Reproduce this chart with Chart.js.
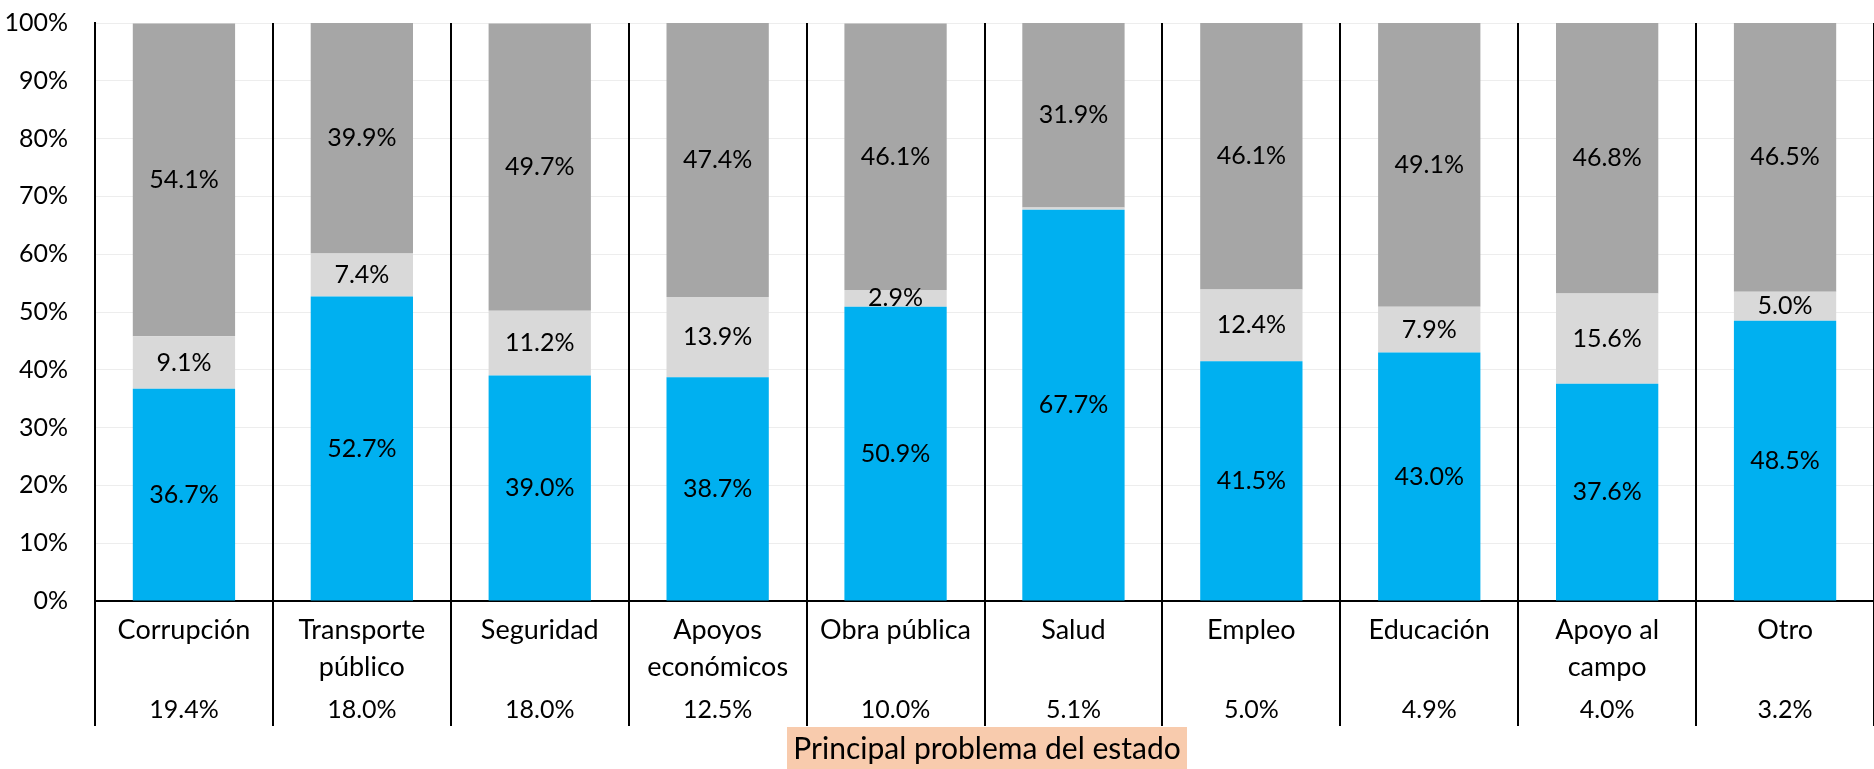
<!DOCTYPE html>
<html>
<head>
<meta charset="utf-8">
<script src="https://cdn.jsdelivr.net/npm/chart.js@4.4.0/dist/chart.umd.min.js"></script>
<style>
  html, body { margin: 0; padding: 0; background: #fff; }
  #wrap { width: 1874px; height: 769px; position: relative; }
</style>
</head>
<body>
<div id="wrap"><canvas id="chart"></canvas></div>
<script>
// categorías (eje x) y su participación
const categories = [
  ['Corrupción'], ['Transporte', 'público'], ['Seguridad'], ['Apoyos', 'económicos'],
  ['Obra pública'], ['Salud'], ['Empleo'], ['Educación'], ['Apoyo al', 'campo'], ['Otro'],
];
const shares = ['19.4%', '18.0%', '18.0%', '12.5%', '10.0%', '5.1%', '5.0%', '4.9%', '4.0%', '3.2%'];

// series apiladas
const serieAzul   = [36.7, 52.7, 39.0, 38.7, 50.9, 67.7, 41.5, 43.0, 37.6, 48.5];
const serieClara  = [9.1, 7.4, 11.2, 13.9, 2.9, 0.4, 12.4, 7.9, 15.6, 5.0];
const serieOscura = [54.1, 39.9, 49.7, 47.4, 46.1, 31.9, 46.1, 49.1, 46.8, 46.5];

const yTicks = [0, 10, 20, 30, 40, 50, 60, 70, 80, 90, 100];
const axisTitle = 'Principal problema del estado';

const FONT = 'Lato';

// etiquetas dentro de las barras, separadores y fila de porcentajes
const decoraciones = {
  id: 'decoraciones',
  afterDatasetsDraw(chart) {
    const { ctx, chartArea, scales: { x } } = chart;
    ctx.save();
    ctx.textAlign = 'center';
    ctx.textBaseline = 'middle';
    ctx.fillStyle = '#000';
    ctx.font = `25px ${FONT}`;
    chart.data.datasets.forEach((ds, di) => {
      const meta = chart.getDatasetMeta(di);
      meta.data.forEach((bar, i) => {
        const v = ds.data[i];
        if (v < 1) return;
        const p = bar.getCenterPoint();
        ctx.fillText(v.toFixed(1) + '%', p.x, p.y);
      });
    });

    // líneas verticales entre categorías
    const half = (x.getPixelForValue(1) - x.getPixelForValue(0)) / 2;
    ctx.strokeStyle = '#000';
    ctx.lineWidth = 2;
    for (let i = 0; i <= categories.length; i++) {
      const px = Math.round(x.getPixelForValue(i) - half);
      ctx.beginPath();
      ctx.moveTo(px, chartArea.top);
      ctx.lineTo(px, 726);
      ctx.stroke();
    }

    // fila de participación
    shares.forEach((s, i) => {
      ctx.fillText(s, x.getPixelForValue(i), 710);
    });

    // título del eje
    ctx.font = `30px ${FONT}`;
    ctx.fillStyle = '#F8CBAD';
    ctx.fillRect(787, 727, 400, 42);
    ctx.fillStyle = '#000';
    ctx.fillText(axisTitle, 987, 749);
    ctx.restore();
  },
};

new Chart(document.getElementById('chart'), {
  type: 'bar',
  data: {
    labels: categories,
    datasets: [
      { data: serieAzul,   backgroundColor: '#00B0F0', borderWidth: 0 },
      { data: serieClara,  backgroundColor: '#D9D9D9', borderWidth: 0 },
      { data: serieOscura, backgroundColor: '#A6A6A6', borderWidth: 0 },
    ],
  },
  options: {
    responsive: true,
    maintainAspectRatio: false,
    animation: false,
    layout: { padding: 0 },
    datasets: { bar: { categoryPercentage: 1, barPercentage: 0.575 } },
    plugins: { legend: { display: false }, tooltip: { enabled: false } },
    scales: {
      x: {
        stacked: true,
        grid: { display: false, drawTicks: false },
        border: { display: true, color: '#000', width: 2 },
        ticks: {
          color: '#000',
          font: { family: FONT, size: 27, lineHeight: 1.4 },
          padding: 10,
          maxRotation: 0,
          autoSkip: false,
        },
        afterFit(scale) { scale.height = 168; },
      },
      y: {
        stacked: true,
        min: 0,
        max: 100,
        afterBuildTicks(scale) { scale.ticks = yTicks.map(v => ({ value: v })); },
        grid: { color: '#EDEDED', lineWidth: 1, drawTicks: false },
        border: { display: true, color: '#000', width: 2 },
        ticks: {
          color: '#000',
          font: { family: FONT, size: 25 },
          padding: 27,
          callback: v => v + '%',
        },
        afterFit(scale) {
          scale.width = 95;
          scale.paddingTop = 23;
          scale.paddingBottom = 0;
        },
      },
    },
  },
  plugins: [decoraciones],
});
</script>
</body>
</html>
